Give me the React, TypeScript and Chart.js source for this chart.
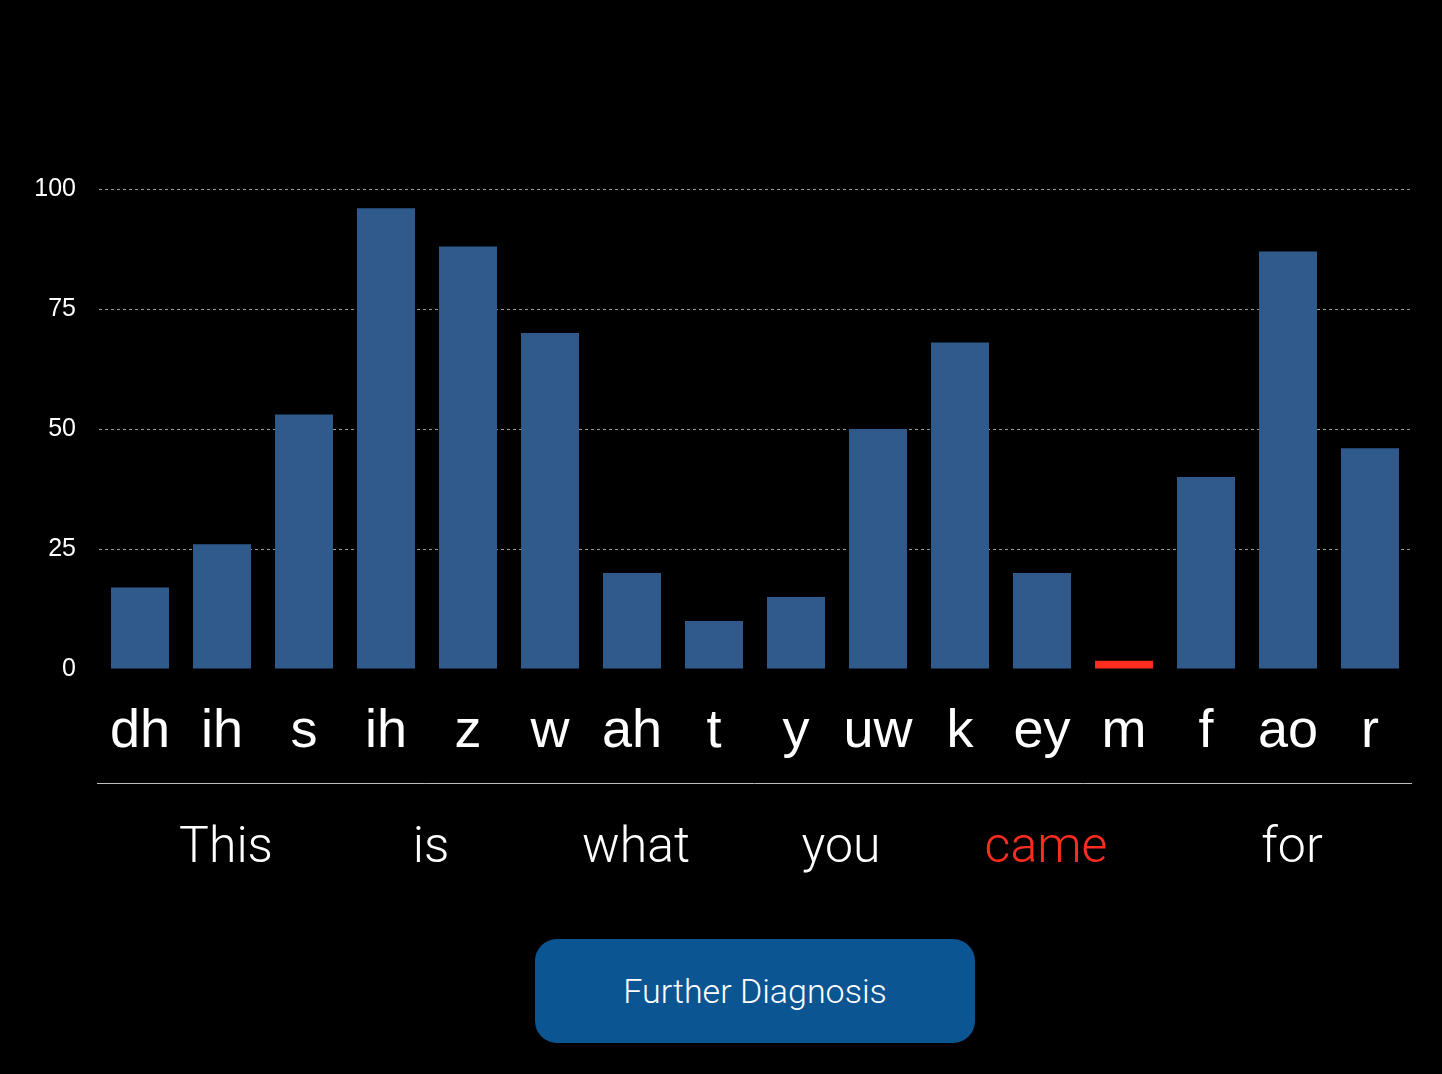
import React, { useEffect, useRef } from "react";
import { Chart, registerables } from "chart.js";

Chart.register(...registerables);

const phonemes = ["dh", "ih", "s", "ih", "z", "w", "ah", "t", "y", "uw", "k", "ey", "m", "f", "ao", "r"];
const scores = [17, 26, 53, 96, 88, 70, 20, 10, 15, 50, 68, 20, 1.7, 40, 87, 46];
const highlightIndex = [12];
const words = ["This", "is", "what", "you", "came", "for"];
const wordStart = [0, 3, 5, 8, 10, 13];
const wordEnd = [2, 4, 7, 9, 12, 15];
const wordHighlight = [false, false, false, false, true, false];
const yTicks = [0, 25, 50, 75, 100];

const BAR = "#2f5a8b";
const RED = "#ff2d20";

const wordsPlugin = {
  id: "wordsRow",
  afterDraw(chart: any) {
    const { ctx, chartArea, scales } = chart;
    const x = scales.x;
    ctx.save();
    ctx.strokeStyle = "#bdbdbd";
    ctx.lineWidth = 1;
    ctx.beginPath();
    ctx.moveTo(chartArea.left - 2, 783.5);
    ctx.lineTo(chartArea.right + 1, 783.5);
    ctx.stroke();
    ctx.font = "300 50px Roboto";
    ctx.textAlign = "center";
    ctx.textBaseline = "middle";
    words.forEach((w, i) => {
      const cx = (x.getPixelForValue(wordStart[i]) + x.getPixelForValue(wordEnd[i])) / 2 + 4;
      ctx.fillStyle = wordHighlight[i] ? RED : "#ffffff";
      ctx.fillText(w, cx, 849);
    });
    ctx.restore();
  },
};

export default function App() {
  const ref = useRef<HTMLCanvasElement>(null);
  useEffect(() => {
    if (!ref.current) return;
    const chart = new Chart(ref.current, {
      type: "bar",
      data: {
        labels: phonemes,
        datasets: [
          {
            data: scores,
            backgroundColor: scores.map((_, i) => (highlightIndex.includes(i) ? RED : BAR)),
            categoryPercentage: 1,
            barPercentage: 0.707,
          },
        ],
      },
      options: {
        animation: false,
        responsive: false,
        maintainAspectRatio: false,
        layout: { padding: { top: 189, right: 31, bottom: 0, left: 0 } },
        plugins: { legend: { display: false }, tooltip: { enabled: false }, title: { display: false } },
        scales: {
          x: {
            grid: { display: false, drawTicks: false },
            border: { display: false },
            ticks: {
              color: "#ffffff",
              font: { family: "Liberation Sans", size: 54 },
              padding: 31,
              maxRotation: 0,
              autoSkip: false,
            },
            afterFit: (s: any) => {
              s.height = 405;
            },
          },
          y: {
            min: 0,
            max: 100,
            afterBuildTicks: (s: any) => {
              s.ticks = yTicks.map((v) => ({ value: v }));
            },
            grid: {
              color: (c: any) => (c.tick && c.tick.value === 0 ? "rgba(0,0,0,0)" : "#9a9a9a"),
              lineWidth: 1,
              drawTicks: false,
            },
            border: { display: false, dash: [3, 3] },
            ticks: {
              color: "#ffffff",
              font: { family: "Liberation Sans", size: 25 },
              padding: 23,
            },
            afterFit: (s: any) => {
              s.width = 99;
            },
          },
        },
      },
      plugins: [wordsPlugin],
    });
    return () => chart.destroy();
  }, []);

  return (
    <div style={{ position: "absolute", left: 0, top: 0, width: 1442, height: 1074, background: "#000", overflow: "hidden" }}>
      <canvas ref={ref} width={1442} height={1074} style={{ display: "block" }} />
      <div
        style={{
          position: "absolute",
          left: 535,
          top: 939,
          width: 440,
          height: 104,
          borderRadius: 22,
          background: "#0c5593",
          color: "#ffffff",
          fontFamily: "Roboto",
          fontWeight: 300,
          fontSize: 34,
          display: "flex",
          alignItems: "center",
          justifyContent: "center",
        }}
      >
        Further Diagnosis
      </div>
    </div>
  );
}
